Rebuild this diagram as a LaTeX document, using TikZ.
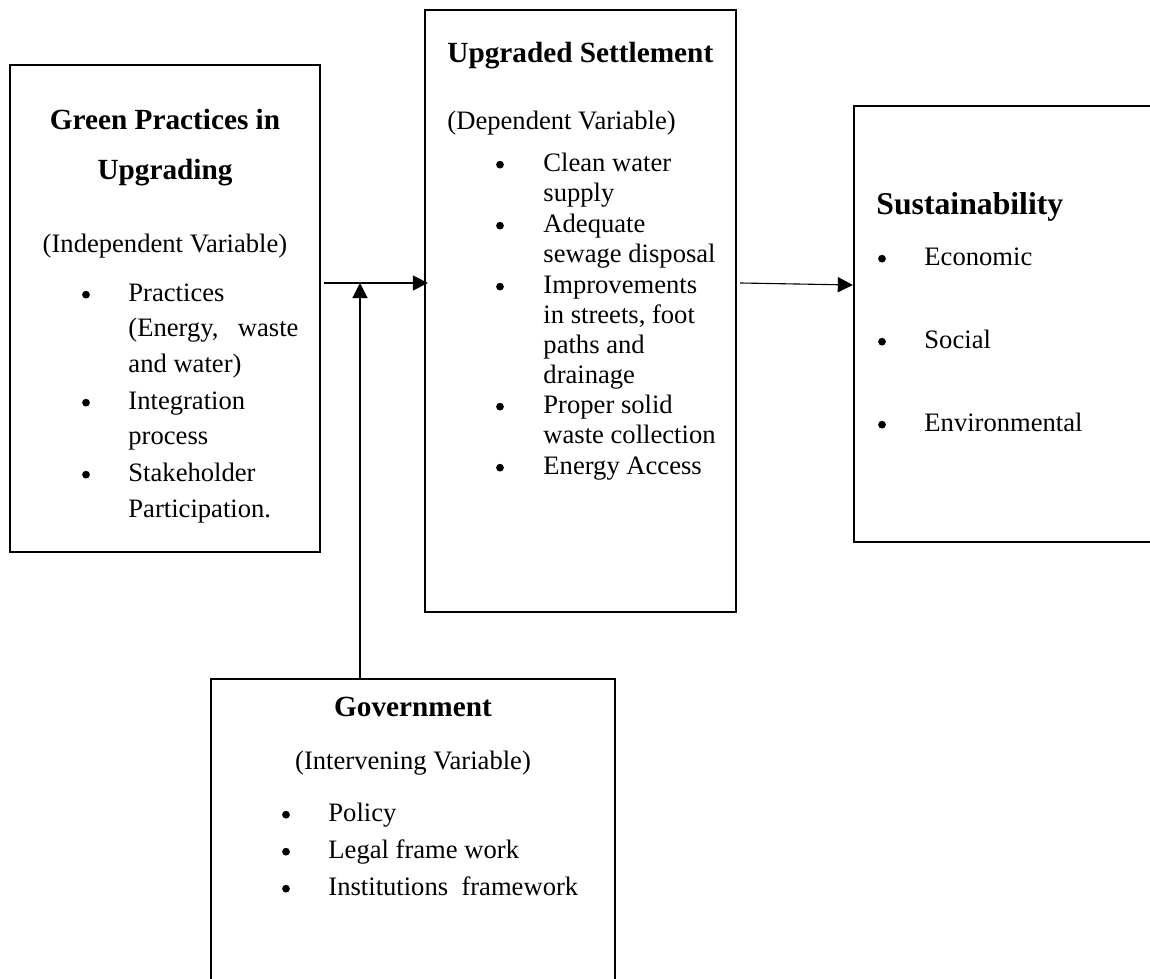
\documentclass[tikz,border=0pt]{standalone}
\usepackage{fontspec}
\setmainfont{Liberation Serif}
\usetikzlibrary{arrows.meta,calc,fit}
\begin{document}
\begin{tikzpicture}[x=0.451pt,y=-0.451pt,
  box/.style={draw=black,line width=1pt,inner sep=0pt,fill=none},
  txt/.style={anchor=base west,inner sep=0pt,font=\fontsize{12}{14}\selectfont},
  hd/.style={anchor=base,inner sep=0pt,font=\fontsize{13.2}{15}\selectfont\bfseries},
  bul/.style={circle,fill=black,inner sep=0pt,minimum size=3.5pt,yshift=3.3pt},
  arr/.style={line width=0.5pt,-{Triangle[length=6.8pt,width=6.8pt]}}]
\clip (0,0) rectangle (1150,979);
\fill[white] (0,0) rectangle (1150,979);
% boxes
\node[box,fit={(10,65) (320,552)}] (left) {};
\node[box,fit={(425,10) (736,612)}] (mid) {};
\node[box,fit={(854,106) (1160,542)}] (right) {};
\node[box,fit={(211,679) (615,990)}] (gov) {};
% left box text
\node[hd] (l1) at (165,130) {Green Practices in};
\node[hd] (l2) at (165,180) {Upgrading};
\node[txt,anchor=base] (l3) at (165,253) {(Independent Variable)};
\node[bul] (lb1) at (86,302) {};
\node[txt] (lt1) at (128,302) {Practices};
\node[txt] (lt2) at (128,337) {\makebox[76.7pt][s]{(Energy, waste}};
\node[txt] (lt3) at (128,373) {and water)};
\node[bul] (lb2) at (86,410) {};
\node[txt] (lt4) at (128,410) {Integration};
\node[txt] (lt5) at (128,445) {process};
\node[bul] (lb3) at (86,482) {};
\node[txt] (lt6) at (128,482) {Stakeholder};
\node[txt] (lt7) at (128,518) {Participation.};
% middle box text
\node[hd,anchor=base west] (m1) at (447,63) {Upgraded Settlement};
\node[txt] (m2) at (447,130) {(Dependent Variable)};
\node[bul] (mb1) at (500,172) {};
\node[txt] (mt1) at (543,172) {Clean water};
\node[txt] (mt2) at (543,202) {supply};
\node[bul] (mb2) at (500,233) {};
\node[txt] (mt3) at (543,233) {Adequate};
\node[txt] (mt4) at (543,263) {sewage disposal};
\node[bul] (mb3) at (500,294) {};
\node[txt] (mt5) at (543,294) {Improvements};
\node[txt] (mt6) at (543,324) {in streets, foot};
\node[txt] (mt7) at (543,354) {paths and};
\node[txt] (mt8) at (543,384) {drainage};
\node[bul] (mb4) at (500,414) {};
\node[txt] (mt9) at (543,414) {Proper solid};
\node[txt] (mt10) at (543,444) {waste collection};
\node[bul] (mb5) at (500,475) {};
\node[txt] (mt11) at (543,475) {Energy Access};
% right box text
\node[hd,anchor=base west,font=\fontsize{14.3}{16}\selectfont\bfseries] (r1) at (876,215) {Sustainability};
\node[bul] (rb1) at (882,266) {};
\node[txt] (rt1) at (924,266) {Economic};
\node[bul] (rb2) at (882,349) {};
\node[txt] (rt2) at (924,349) {Social};
\node[bul] (rb3) at (882,432) {};
\node[txt] (rt3) at (924,432) {Environmental};
% government box text
\node[hd] (g1) at (413,717) {Government};
\node[txt,anchor=base] (g2) at (413,770) {(Intervening Variable)};
\node[bul] (gb1) at (286,822) {};
\node[txt] (gt1) at (328,822) {Policy};
\node[bul] (gb2) at (286,859) {};
\node[txt] (gt2) at (328,859) {Legal frame work};
\node[bul] (gb3) at (286,896) {};
\node[txt] (gt3) at (328,896) {Institutions\ \ framework};
% connectors
\coordinate (j) at (360,283);
\coordinate (k) at (0,285);
\draw[arr] ($(left.east |- j)+(3,0)$) -- ($(mid.west |- j)+(4,0)$);
\draw[arr] (gov.north -| j) -- (j);
\draw[arr] ($(mid.east |- j)+(3,0)$) -- (right.west |- k);
\end{tikzpicture}
\end{document}
